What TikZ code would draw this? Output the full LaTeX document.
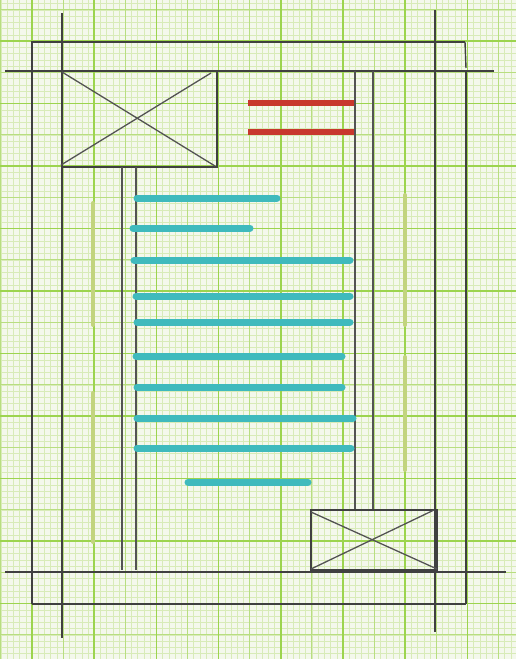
\documentclass[tikz,border=0pt]{standalone}
\definecolor{paper}{HTML}{F4F8EC}
\definecolor{gminor}{HTML}{D8EBB8}
\definecolor{gmed}{HTML}{B8DE80}
\definecolor{gmaj}{HTML}{9CD44E}
\definecolor{pencil}{HTML}{404040}
\definecolor{redink}{HTML}{C8372E}
\definecolor{tealink}{HTML}{3FBABD}
\definecolor{oliveink}{HTML}{C2D47E}
\tikzset{
  wallthick/.style={pencil,line width=2.4pt},
  wallthin/.style={pencil,line width=1.4pt},
  sketchline/.style={pencil!90,line width=1.3pt},
  redstroke/.style={redink,line width=5.5pt},
  tealstroke/.style={tealink,line width=7pt,line cap=round},
  olivestroke/.style={oliveink,line width=4pt,line cap=round},
}
\begin{document}
\begin{tikzpicture}[x=1pt,y=-1pt]
\fill[paper] (0,0) rectangle (516,659);
\useasboundingbox (0,0) rectangle (516,659);
% graph paper grid
\foreach \i in {-6,...,78} \draw[gminor,line width=0.5pt] ({32+6.22*\i},0) -- ({32+6.22*\i},659);
\foreach \j in {-7,...,99} \draw[gminor,line width=0.5pt] (0,{41+6.25*\j}) -- (516,{41+6.25*\j});
\foreach \i in {-2,...,16} \draw[gmed,line width=0.9pt] ({32+31.1*\i},0) -- ({32+31.1*\i},659);
\foreach \j in {-2,...,20} \draw[gmed,line width=0.9pt] (0,{41+31.25*\j}) -- (516,{41+31.25*\j});
\foreach \i in {-1,...,8} \draw[gmaj,line width=1.5pt] ({32+62.2*\i},0) -- ({32+62.2*\i},659);
\foreach \j in {-1,...,10} \draw[gmaj,line width=1.5pt] (0,{41+62.5*\j}) -- (516,{41+62.5*\j});
% olive highlighter strokes
\draw[olivestroke] (93,203) -- (93,325);
\draw[olivestroke] (93,393) -- (93,542);
\draw[olivestroke] (405,195) -- (405,325);
\draw[olivestroke] (405,357) -- (405,470);
% outer frame
\draw[wallthick] (32,604) -- (32,42) -- (465,42);
\draw[wallthin] (465,42) -- (466,68);
\draw[wallthin] (466,71) -- (466,604);
\draw[wallthick] (32,604) -- (466,604);
% crossing wall lines
\draw[wallthick] (62,13) -- (62,638);
\draw[wallthick] (435,10) -- (435,632);
\draw[wallthick] (5,71) -- (494,71);
\draw[wallthick] (5,572) -- (506,572);
% top-left box with cross
\draw[wallthin] (62,71) rectangle (217,167);
\draw[sketchline] (62,72) -- (215,166);
\draw[sketchline] (211,73) -- (61,165);
% thin vertical lines
\draw[sketchline] (122,167) -- (122,570);
\draw[sketchline] (136,167) -- (136,570);
\draw[sketchline] (355,71) -- (355,510);
\draw[sketchline] (373,71) -- (373,510);
% bottom-right box with cross
\draw[wallthin] (311,510) rectangle (437,570);
\draw[sketchline] (311,512) -- (437,569);
\draw[sketchline] (434,510) -- (311,569);
% red strokes
\draw[redstroke] (248,103) -- (354,103);
\draw[redstroke] (248,132) -- (354,132);
% teal strokes
\draw[tealstroke] (137,198) -- (277,198);
\draw[tealstroke] (133,228) -- (250,228);
\draw[tealstroke] (134,260) -- (350,260);
\draw[tealstroke] (136,296) -- (350,296);
\draw[tealstroke] (137,322) -- (350,322);
\draw[tealstroke] (136,356) -- (342,356);
\draw[tealstroke] (137,387) -- (342,387);
\draw[tealstroke] (137,418) -- (353,418);
\draw[tealstroke] (137,448) -- (351,448);
\draw[tealstroke] (188,482) -- (308,482);
\end{tikzpicture}
\end{document}
